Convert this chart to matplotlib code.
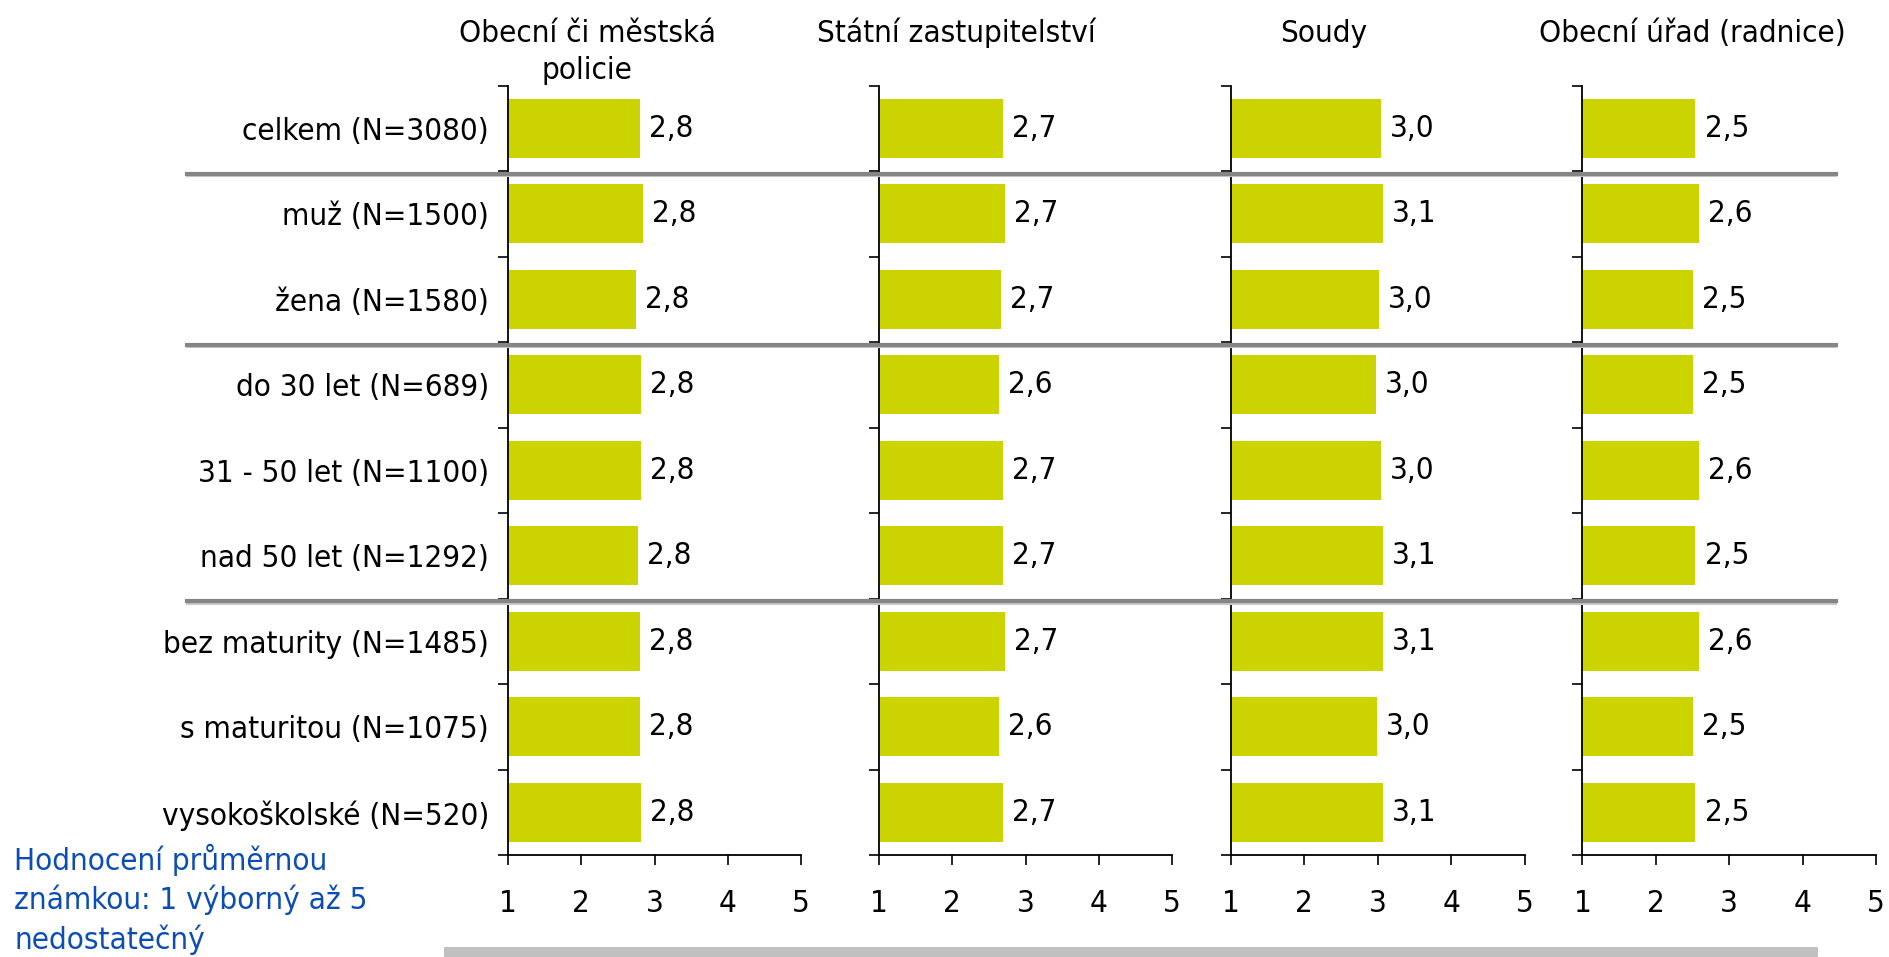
import matplotlib
matplotlib.use('Agg')
import matplotlib.pyplot as plt
from matplotlib.patches import Rectangle
from matplotlib.lines import Line2D
import matplotlib.transforms as mtransforms
from matplotlib import font_manager

plt.rcParams['font.family'] = ['DejaVu Sans']
names = {(f.name, f.stretch) for f in font_manager.fontManager.ttflist if 'DejaVu' in f.name}
has_cond = any(s in ('condensed', 'semi-condensed', 600, 500) or (isinstance(s, int) and s < 500) or s == 'condensed' for n, s in names)
if has_cond:
    plt.rcParams['font.stretch'] = 'condensed'
    FS = 22.5
else:
    FS = 20

# ---------------- data ----------------
categories = ["celkem (N=3080)", "muž (N=1500)", "žena (N=1580)",
              "do 30 let (N=689)", "31 - 50 let (N=1100)", "nad 50 let (N=1292)",
              "bez maturity (N=1485)", "s maturitou (N=1075)", "vysokoškolské (N=520)"]
panel_titles = [["Obecní či městská", "policie"], ["Státní zastupitelství"],
                ["Soudy"], ["Obecní úřad (radnice)"]]
policie = [2.80, 2.84, 2.75, 2.82, 2.82, 2.77, 2.80, 2.80, 2.82]
zastupitelstvi = [2.69, 2.72, 2.66, 2.64, 2.69, 2.69, 2.72, 2.64, 2.69]
soudy = [3.04, 3.07, 3.02, 2.97, 3.04, 3.07, 3.07, 2.99, 3.07]
radnice = [2.54, 2.59, 2.51, 2.51, 2.59, 2.54, 2.59, 2.51, 2.54]
x_ticks = [1, 2, 3, 4, 5]
group_breaks = [0.5, 2.5, 5.5]
note_lines = ["Hodnocení průměrnou", "známkou: 1 výborný až 5", "nedostatečný"]

series = [policie, zastupitelstvi, soudy, radnice]

# ---------------- layout ----------------
W, H = 1890, 957
fig = plt.figure(figsize=(W / 100, H / 100), dpi=100)
fig.patch.set_facecolor('white')

panel_lr = [(508, 801), (879, 1172), (1230.5, 1525), (1582.5, 1876)]
top_px, bot_px = 85.6, 855
title_cx = [587, 956, 1323.5, 1692]

BAR = '#CCD400'
axes = []
for i, (l, r) in enumerate(panel_lr):
    ax = fig.add_axes([l / W, 1 - bot_px / H, (r - l) / W, (bot_px - top_px) / H])
    axes.append(ax)
    vals = series[i]
    ypos = list(range(len(categories)))
    ax.barh(ypos, [v - 1 for v in vals], left=1, height=0.69, color=BAR, zorder=2)
    for y, v in zip(ypos, vals):
        ax.annotate(f"{v:.1f}".replace('.', ','), xy=(v, y), xytext=(6.5, 0),
                    textcoords='offset points', va='center', ha='left',
                    fontsize=FS, color='black')
    ax.set_xlim(1, 5)
    ax.set_ylim(len(categories) - 0.5, -0.5)
    ax.set_xticks(x_ticks)
    ax.set_xticklabels([str(t) for t in x_ticks])
    ax.tick_params(axis='x', direction='out', length=7.2, width=1.2, pad=17,
                   labelsize=FS, color='black')
    ax.set_yticks(ypos)
    if i == 0:
        ax.set_yticklabels(categories)
    else:
        ax.set_yticklabels([])
    ax.tick_params(axis='y', which='major', length=0, pad=13.7, labelsize=FS)
    ax.set_yticks([k - 0.5 for k in range(len(categories) + 1)], minor=True)
    ax.tick_params(axis='y', which='minor', direction='out', length=7.2, width=1.2,
                   color='black')
    for s in ['top', 'right']:
        ax.spines[s].set_visible(False)
    for s in ['left', 'bottom']:
        ax.spines[s].set_linewidth(1.3)
        ax.spines[s].set_color('black')
    ax.set_facecolor('none')

    # panel titles
    for j, line in enumerate(panel_titles[i]):
        fig.text(title_cx[i] / W, 1 - (42 + 37 * j) / H, line, ha='center',
                 va='baseline', fontsize=FS, color='black')

# group separators spanning all panels
ax0 = axes[0]
blend = mtransforms.blended_transform_factory(fig.transFigure, ax0.transData)
for b in group_breaks:
    t_dark = mtransforms.offset_copy(blend, fig=fig, x=0, y=-2.5, units='dots')
    t_light = mtransforms.offset_copy(blend, fig=fig, x=0, y=-5.0, units='dots')
    fig.add_artist(Line2D([187 / W, 1836 / W], [b, b], transform=t_light,
                          color='#c8c8c8', lw=1.5, zorder=5))
    fig.add_artist(Line2D([187 / W, 1836 / W], [b, b], transform=t_dark,
                          color='#858585', lw=3.0, zorder=6))

# note in blue
for j, line in enumerate(note_lines):
    fig.text(14.5 / W, 1 - (870 + 39.3 * j) / H, line, ha='left', va='baseline',
             fontsize=FS, color='#0B4DB5')

# bottom grey bar
fig.add_artist(Rectangle((443.6 / W, 0), (1818 - 443.6) / W, 10 / H,
                         transform=fig.transFigure, facecolor='#c0c0c0',
                         edgecolor='none'))

fig.savefig('out.png', dpi=100, facecolor='white')
